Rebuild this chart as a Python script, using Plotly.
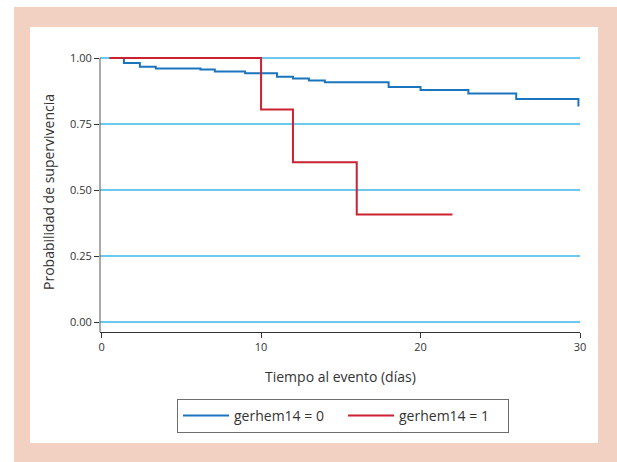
import plotly.graph_objects as go

# ---- data ----
blue_name = "gerhem14 = 0"
blue_t = [0.5, 1.4, 2.4, 3.4, 6.2, 7.1, 9, 11, 12, 13, 14, 18, 20, 23, 26, 29.9]
blue_s = [1.0, 0.981, 0.967, 0.960, 0.956, 0.949, 0.942, 0.929, 0.922, 0.915,
          0.908, 0.890, 0.879, 0.866, 0.845, 0.816]

red_name = "gerhem14 = 1"
red_t = [0.5, 10, 12, 16, 22]
red_s = [1.0, 0.805, 0.605, 0.407, 0.407]

x_ticks = [0, 10, 20, 30]
y_ticks = [0.0, 0.25, 0.5, 0.75, 1.0]
y_ticktext = ["0.00", "0.25", "0.50", "0.75", "1.00"]

x_title = "Tiempo al evento (días)"
y_title = "Probabilidad de supervivencia"

# ---- layout geometry (pixels) ----
W, H = 617, 462
L, R, T, B = 100, 580, 54, 332
PW, PH = R - L, B - T


def px(x):
    return (x - L) / PW


def py(y):
    return (B - y) / PH


FONT = "Open Sans"
BLUE = "#1b75bc"
RED = "#cc2131"
GRID = "#6cc8ef"
PEACH = "#f2d1c3"

fig = go.Figure()
fig.add_trace(go.Scatter(x=blue_t, y=blue_s, mode="lines", name=blue_name,
                         line=dict(color=BLUE, width=2, shape="hv")))
fig.add_trace(go.Scatter(x=red_t, y=red_s, mode="lines", name=red_name,
                         line=dict(color=RED, width=2, shape="hv")))

y_lo = -10 / 264
y_hi = 1 + 4 / 264

fig.update_layout(
    width=W, height=H,
    margin=dict(l=L, r=W - R, t=T, b=H - B, pad=0),
    paper_bgcolor="white",
    plot_bgcolor="rgba(0,0,0,0)",
    font=dict(family=FONT, color="#333333", size=11),
    showlegend=True,
    legend=dict(orientation="h", x=px(343), xanchor="center",
                y=py(399), yanchor="top",
                bordercolor="#6e6e6e", borderwidth=1,
                font=dict(size=14, color="#333333", family=FONT),
                bgcolor="white", itemwidth=46,
                entrywidth=104, entrywidthmode="pixels",
                tracegroupgap=0),
    xaxis=dict(range=[-0.1, 30], tickvals=x_ticks, ticks="outside",
               ticklen=5, tickcolor="#333333", showgrid=False, zeroline=False,
               showline=True, linecolor="#333333", linewidth=1,
               tickfont=dict(size=11, color="#333333")),
    yaxis=dict(range=[y_lo, y_hi], tickvals=y_ticks, ticktext=y_ticktext,
               ticks="outside", ticklen=5, tickcolor="#333333",
               showgrid=True, gridcolor=GRID, gridwidth=1.5,
               zeroline=False, showline=False,
               tickfont=dict(size=11, color="#333333")),
    shapes=[
        dict(type="rect", xref="paper", yref="paper", layer="below",
             x0=px(14), x1=px(625), y0=py(470), y1=py(7),
             fillcolor=PEACH, line=dict(width=0)),
        dict(type="rect", xref="paper", yref="paper", layer="below",
             x0=px(30), x1=px(598), y0=py(443), y1=py(27),
             fillcolor="white", line=dict(width=0)),
        dict(type="line", xref="paper", yref="y", layer="above",
             x0=0, x1=0, y0=y_lo, y1=1.0,
             line=dict(color="#555555", width=1)),
    ],
    annotations=[
        dict(text=x_title, xref="paper", yref="paper", x=px(340), y=py(377),
             showarrow=False, xanchor="center", yanchor="middle",
             font=dict(size=14, color="#333333", family=FONT)),
        dict(text=y_title, xref="paper", yref="paper", x=px(48), y=py(192),
             showarrow=False, xanchor="center", yanchor="middle", textangle=-90,
             font=dict(size=14, color="#333333", family=FONT)),
    ],
)

fig.write_html("out.html")
